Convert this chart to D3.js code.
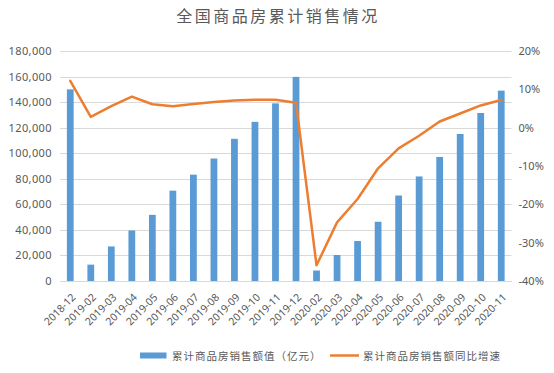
<!DOCTYPE html>
<html>
<head>
<meta charset="utf-8">
<script src="https://cdn.jsdelivr.net/npm/d3@7"></script>
<style>
  html, body { margin: 0; padding: 0; background: #fff; }
  svg { display: block; }
</style>
</head>
<body>
<svg id="chart" width="554" height="373"></svg>
<script>
const categories = ["2018-12","2019-02","2019-03","2019-04","2019-05","2019-06","2019-07","2019-08","2019-09","2019-10","2019-11","2019-12",
  "2020-02","2020-03","2020-04","2020-05","2020-06","2020-07","2020-08","2020-09","2020-10","2020-11"];
const salesValue = [149973,12803,27039,39524,51773,70698,83224,95842,111274,124547,139006,159725,
  8203,20365,31304,46355,66895,81811,97070,115043,131478,148977];
const salesGrowth = [12.2,2.8,5.6,8.1,6.1,5.6,6.2,6.7,7.1,7.3,7.3,6.5,
  -35.9,-24.7,-18.6,-10.6,-5.4,-2.1,1.6,3.7,5.8,7.2];
const leftTicks = [0,20000,40000,60000,80000,100000,120000,140000,160000,180000];
const rightTicks = [-40,-30,-20,-10,0,10,20];
const title = "全国商品房累计销售情况";
const legendBar = "累计商品房销售额值（亿元）";
const legendLine = "累计商品房销售额同比增速";

const svg = d3.select("#chart");
const m = {left: 60, right: 511.5, top: 51, bottom: 281};
const x = d3.scaleBand().domain(categories).range([m.left, m.right]).padding(0);
const yL = d3.scaleLinear().domain([0, 180000]).range([m.bottom, m.top]);
const yR = d3.scaleLinear().domain([-40, 20]).range([m.bottom, m.top]);
const textColor = "#595959";
const font = "'Noto Sans', 'Noto Sans CJK SC', sans-serif";

// title
svg.append("text").attr("x", 278).attr("y", 22).attr("text-anchor", "middle")
  .attr("font-family", "'Noto Sans CJK SC', sans-serif").attr("font-size", 16)
  .attr("letter-spacing", 2.5).attr("fill", textColor).text(title);

// gridlines
svg.append("g").selectAll("line").data(leftTicks).join("line")
  .attr("x1", m.left).attr("x2", m.right)
  .attr("y1", d => Math.round(yL(d)) + 0.5).attr("y2", d => Math.round(yL(d)) + 0.5)
  .attr("stroke", "#d9d9d9").attr("stroke-width", 1);

// left axis
const axL = svg.append("g").attr("transform", `translate(${m.left},0)`)
  .call(d3.axisLeft(yL).tickValues(leftTicks).tickFormat(d3.format(",")).tickSize(0).tickPadding(8));
axL.select(".domain").remove();
axL.selectAll("text").attr("font-family", font).attr("font-size", 11).attr("letter-spacing", 0.4).attr("fill", textColor);

// right axis
const axR = svg.append("g").attr("transform", `translate(${m.right},0)`)
  .call(d3.axisRight(yR).tickValues(rightTicks).tickFormat(d => d + "%").tickSize(0).tickPadding(7));
axR.select(".domain").remove();
axR.selectAll("text").attr("font-family", font).attr("font-size", 11).attr("fill", textColor);

// bars
const bw = x.bandwidth() * 0.33;
svg.append("g").selectAll("rect").data(categories).join("rect")
  .attr("x", (d) => x(d) + x.bandwidth() / 2 - bw / 2)
  .attr("width", bw)
  .attr("y", (d, i) => yL(salesValue[i]))
  .attr("height", (d, i) => yL(0) - yL(salesValue[i]))
  .attr("fill", "#5B9BD5");

// x labels
const axB = svg.append("g").attr("transform", `translate(0,${m.bottom})`)
  .call(d3.axisBottom(x).tickSize(0).tickPadding(0));
axB.select(".domain").attr("stroke", "#d9d9d9");
axB.selectAll("text").attr("font-family", font).attr("font-size", 10.5).attr("fill", textColor)
  .attr("text-anchor", "end").attr("dy", 0)
  .attr("transform", "translate(6,17) rotate(-45)");

// line
const line = d3.line().x((d, i) => x(categories[i]) + x.bandwidth() / 2).y(d => yR(d));
svg.append("path").datum(salesGrowth).attr("d", line)
  .attr("fill", "none").attr("stroke", "#ED7D31").attr("stroke-width", 2.5)
  .attr("stroke-linejoin", "round").attr("stroke-linecap", "round");

// legend
const lg = svg.append("g");
lg.append("rect").attr("x", 140).attr("y", 352.5).attr("width", 26.5).attr("height", 6).attr("fill", "#5B9BD5");
lg.append("text").attr("x", 172).attr("y", 359.5).attr("font-family", "'Noto Sans CJK SC', sans-serif")
  .attr("font-size", 10.5).attr("letter-spacing", 1).attr("fill", textColor).text(legendBar);
lg.append("line").attr("x1", 330).attr("x2", 359).attr("y1", 355.5).attr("y2", 355.5)
  .attr("stroke", "#ED7D31").attr("stroke-width", 2.5);
lg.append("text").attr("x", 363).attr("y", 359.5).attr("font-family", "'Noto Sans CJK SC', sans-serif")
  .attr("font-size", 10.5).attr("letter-spacing", 1).attr("fill", textColor).text(legendLine);
</script>
</body>
</html>
